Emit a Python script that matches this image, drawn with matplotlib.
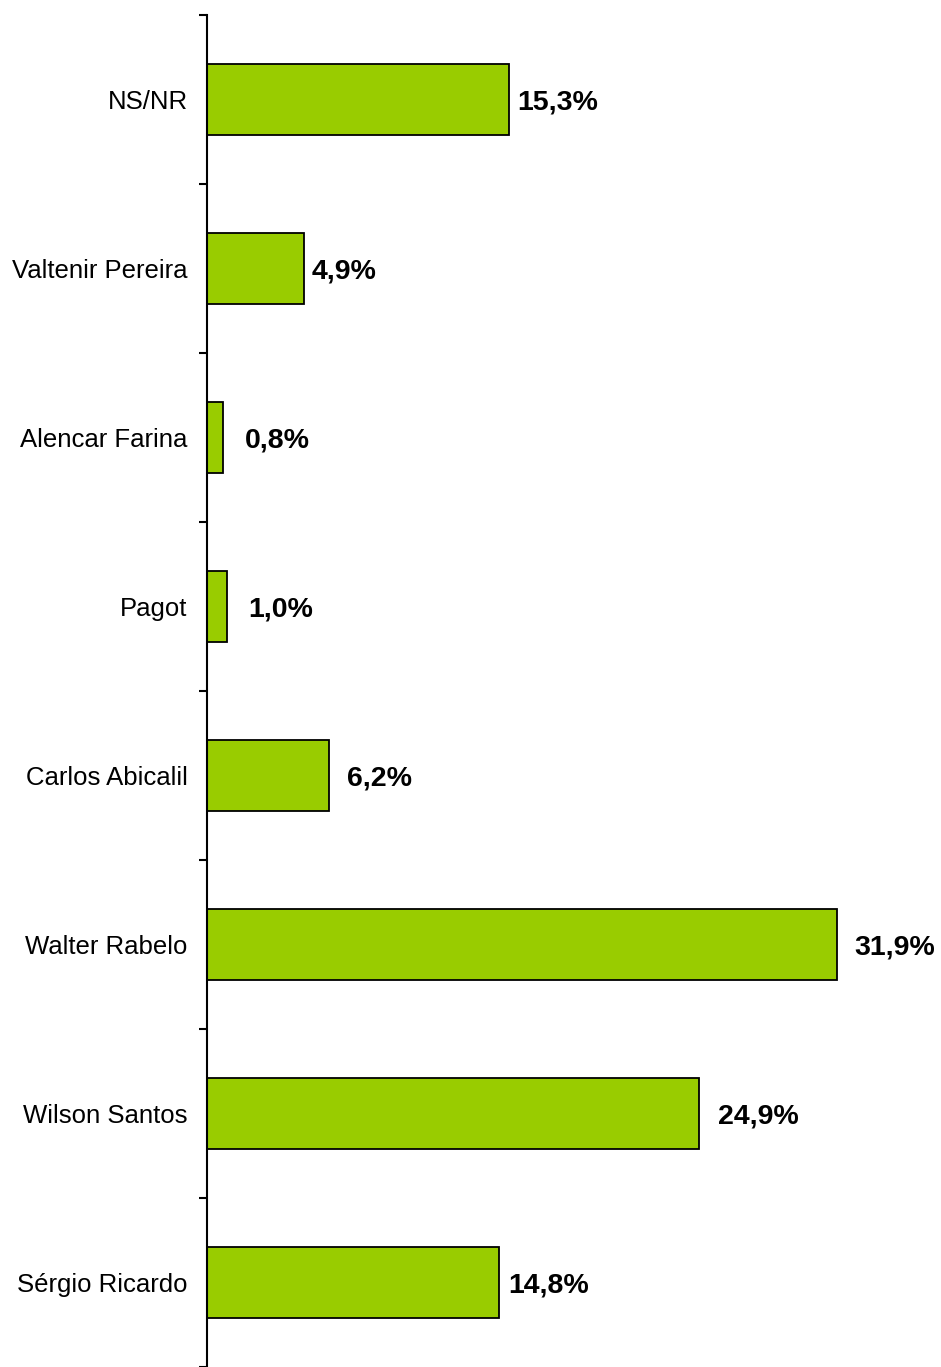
import numpy as np
import matplotlib.pyplot as plt

# candidates listed bottom to top
candidates = ['Sérgio Ricardo', 'Wilson Santos', 'Walter Rabelo', 'Carlos Abicalil',
              'Pagot', 'Alencar Farina', 'Valtenir Pereira', 'NS/NR']
values = [14.8, 24.9, 31.9, 6.2, 1.0, 0.8, 4.9, 15.3]
value_labels = ['14,8%', '24,9%', '31,9%', '6,2%', '1,0%', '0,8%', '4,9%', '15,3%']

# gap (pixels) between bar end and its label, as in the original layout
label_gap = [9, 19, 18, 18, 22, 22, 8, 8]

plt.rcParams['font.family'] = ['Liberation Sans', 'DejaVu Sans']

W, H = 941, 1367
fig = plt.figure(figsize=(W / 100, H / 100), dpi=100)
ax = fig.add_axes([207 / W, 0, (W - 207) / W, 1352 / H])

y = np.arange(len(candidates)) + 0.5
ax.barh(y, values, height=0.42, color='#99CC00', edgecolor='black', linewidth=1.3, zorder=2)

for yi, v, lab, g in zip(y, values, value_labels, label_gap):
    ax.annotate(lab, (v, yi), xytext=(g * 0.72, -2), textcoords='offset points',
                ha='left', va='center', fontsize=20.5, fontweight='bold')

ax.set_xlim(0, (W - 207) / 19.74)
ax.set_ylim(0, len(candidates))

for s in ['top', 'right', 'bottom']:
    ax.spines[s].set_visible(False)
ax.spines['left'].set_linewidth(1.5)
ax.set_xticks([])

ax.set_yticks(np.arange(len(candidates) + 1))
ax.set_yticklabels([])
ax.tick_params(axis='y', which='major', direction='out', length=6, width=1.5)
ax.set_yticks(y, minor=True)
ax.set_yticklabels(candidates, minor=True, fontsize=18.5)
ax.tick_params(axis='y', which='minor', length=0, pad=14)

fig.savefig('out.png', dpi=100)
